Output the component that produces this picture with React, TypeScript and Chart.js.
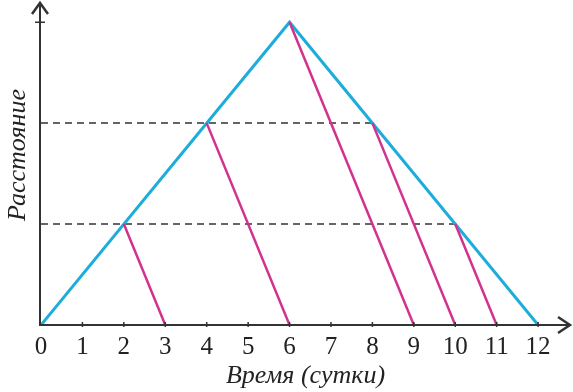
import React, { useEffect, useRef } from "react";
import { Chart, registerables } from "chart.js";

Chart.register(...registerables);

// Data
const xTickValues = [0, 1, 2, 3, 4, 5, 6, 7, 8, 9, 10, 11, 12];
const blueX = [0, 6, 12];
const blueY = [0, 3, 0];
const magStartX = [2, 4, 6, 8, 10];
const magStartY = [1, 2, 3, 2, 1];
const magEndX = [3, 6, 9, 10, 11];
const dashLevels = [1, 2];
const dashEndX = [10, 8];
const xTitle = "Время (сутки)";
const yTitle = "Расстояние";

const BLUE = "#1eaddb";
const MAGENTA = "#d2318e";
const AXIS = "#333333";
const TEXT = "#222222";
const FONT = '"Liberation Serif", "DejaVu Serif", serif';

const X_MAX = 12.77;
const Y_MAX = 3.19;

const axisPlugin = {
  id: "axisArrows",
  afterDatasetsDraw(chart: any) {
    const ctx = chart.ctx;
    const xs = chart.scales.x;
    const ys = chart.scales.y;
    const x0 = xs.getPixelForValue(0);
    const y0 = ys.getPixelForValue(0);
    const xEnd = xs.getPixelForValue(X_MAX);
    const yEnd = ys.getPixelForValue(Y_MAX);
    ctx.save();
    ctx.strokeStyle = AXIS;
    ctx.lineWidth = 2;
    ctx.lineCap = "butt";
    ctx.beginPath();
    ctx.moveTo(x0 - 1, y0);
    ctx.lineTo(xEnd, y0);
    ctx.moveTo(x0 - 1, y0 + 1);
    ctx.lineTo(x0 - 1, yEnd);
    ctx.stroke();
    ctx.lineWidth = 2.5;
    ctx.lineJoin = "miter";
    ctx.beginPath();
    ctx.moveTo(xEnd - 12, y0 - 8);
    ctx.lineTo(xEnd, y0);
    ctx.lineTo(xEnd - 12, y0 + 8);
    ctx.stroke();
    ctx.beginPath();
    ctx.moveTo(x0 - 1 - 8, yEnd + 11);
    ctx.lineTo(x0 - 1, yEnd);
    ctx.lineTo(x0 - 1 + 8, yEnd + 11);
    ctx.stroke();
    ctx.lineWidth = 1.5;
    ctx.beginPath();
    xTickValues.forEach((v) => {
      if (v === 0) return;
      const px = xs.getPixelForValue(v);
      ctx.moveTo(px, y0 - 3);
      ctx.lineTo(px, y0 + 2);
    });
    const yt = ys.getPixelForValue(3);
    ctx.moveTo(x0 - 6, yt);
    ctx.lineTo(x0 + 4, yt);
    ctx.stroke();
    // y axis title
    ctx.translate(18, 155);
    ctx.rotate(-Math.PI / 2);
    ctx.fillStyle = TEXT;
    ctx.font = `italic 26px ${FONT}`;
    ctx.textAlign = "center";
    ctx.textBaseline = "middle";
    ctx.fillText(yTitle, 0, 0);
    ctx.restore();
  },
};

export default function App() {
  const ref = useRef<HTMLCanvasElement>(null);
  useEffect(() => {
    document.body.style.margin = "0";
    let chart: any = null;
    let cancelled = false;
    const build = () => {
      if (cancelled || !ref.current) return;
      const datasets: any[] = [];
      dashLevels.forEach((lvl, i) => {
        datasets.push({
          data: [
            { x: 0, y: lvl },
            { x: dashEndX[i], y: lvl },
          ],
          borderColor: AXIS,
          borderWidth: 1.5,
          borderDash: [7, 5],
          pointRadius: 0,
          showLine: true,
          order: 3,
        });
      });
      datasets.push({
        data: blueX.map((x, i) => ({ x, y: blueY[i] })),
        borderColor: BLUE,
        borderWidth: 3,
        pointRadius: 0,
        showLine: true,
        order: 2,
      });
      magStartX.forEach((sx, i) => {
        datasets.push({
          data: [
            { x: sx, y: magStartY[i] },
            { x: magEndX[i], y: 0 },
          ],
          borderColor: MAGENTA,
          borderWidth: 2.5,
          pointRadius: 0,
          showLine: true,
          order: 1,
        });
      });
      chart = new Chart(ref.current, {
        type: "scatter",
        data: { datasets },
        plugins: [axisPlugin],
        options: {
          animation: false,
          responsive: false,
          layout: { padding: { left: 0, right: 3, top: 3, bottom: 0 } },
          plugins: { legend: { display: false }, tooltip: { enabled: false } },
          scales: {
            x: {
              type: "linear",
              min: 0,
              max: X_MAX,
              grid: { display: false, drawTicks: false },
              border: { display: false },
              afterBuildTicks: (s: any) => {
                s.ticks = xTickValues.map((v) => ({ value: v }));
              },
              afterFit: (s: any) => {
                s.height = 67;
              },
              ticks: {
                color: TEXT,
                padding: 7,
                maxRotation: 0,
                autoSkip: false,
                font: { family: FONT, size: 25 },
                callback: (v: any) => String(v),
              },
              title: {
                display: true,
                text: xTitle,
                color: TEXT,
                font: { family: FONT, size: 26, style: "italic" },
                padding: { top: 0, bottom: 0 },
              },
            },
            y: {
              type: "linear",
              min: 0,
              max: Y_MAX,
              grid: { display: false, drawTicks: false },
              border: { display: false },
              ticks: { display: false },
              afterFit: (s: any) => {
                s.width = 41;
              },
              title: { display: false, text: yTitle },
            },
          },
        },
      });
    };
    const fontsApi: any = (document as any).fonts;
    if (fontsApi && fontsApi.load) {
      Promise.all([
        fontsApi.load('25px "Liberation Serif"'),
        fontsApi.load('italic 26px "Liberation Serif"'),
      ])
        .catch(() => null)
        .then(build);
    } else {
      build();
    }
    return () => {
      cancelled = true;
      if (chart) chart.destroy();
    };
  }, []);
  return (
    <div style={{ position: "absolute", left: 0, top: 0, width: 573, height: 392, background: "#fff" }}>
      <canvas ref={ref} width={573} height={392} />
    </div>
  );
}
